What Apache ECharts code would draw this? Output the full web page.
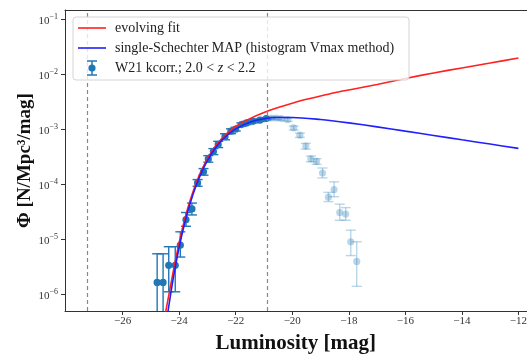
<!DOCTYPE html>
<html>
<head>
<meta charset="utf-8">
<script src="https://cdn.jsdelivr.net/npm/echarts@6/dist/echarts.min.js"></script>
<style>html,body{margin:0;padding:0;background:#fff}#c{width:530px;height:359px}</style>
</head>
<body>
<div id="c"></div>
<script>
// ---- data (Phi in N/Mpc^3/mag, luminosity in mag) ----
const xTicks = [-26, -24, -22, -20, -18, -16, -14, -12];
const yTicks = [-6, -5, -4, -3, -2, -1]; // powers of ten
const vLines = [-27.25, -20.9];

// W21 kcorr. points used in fit
const fitMag = [-24.78, -24.57, -24.37, -24.14, -23.96, -23.76, -23.55, -23.35, -23.14, -22.97, -22.79, -22.62, -22.38, -22.17, -22.0, -21.80, -21.62, -21.39, -21.15, -20.92];
const fitPhi = [1.66e-6, 1.66e-6, 3.4e-6, 3.4e-6, 7.9e-6, 2.3e-5, 3.6e-5, 1.07e-4, 1.70e-4, 2.92e-4, 3.98e-4, 5.37e-4, 7.41e-4, 9.33e-4, 1.02e-3, 1.23e-3, 1.32e-3, 1.41e-3, 1.48e-3, 1.58e-3];
const fitLo = [0, 0, 1.12e-6, 1.12e-6, 4.8e-6, 1.74e-5, 2.8e-5, 9.3e-5, 1.48e-4, 2.55e-4, 3.5e-4, 4.7e-4, 6.5e-4, 8.4e-4, 0.94e-3, 1.14e-3, 1.23e-3, 1.32e-3, 1.40e-3, 1.50e-3];
const fitHi = [5.5e-6, 5.5e-6, 7.4e-6, 7.4e-6, 1.38e-5, 3.1e-5, 4.6e-5, 1.23e-4, 1.95e-4, 3.35e-4, 4.5e-4, 6.1e-4, 8.4e-4, 1.03e-3, 1.10e-3, 1.32e-3, 1.41e-3, 1.50e-3, 1.56e-3, 1.66e-3];

// W21 kcorr. points beyond the limit (faint)
const faintMag = [-20.74, -20.57, -20.39, -20.16, -19.95, -19.73, -19.52, -19.34, -19.14, -18.93, -18.72, -18.52, -18.32, -18.11, -17.93, -17.72];
const faintPhi = [1.62e-3, 1.62e-3, 1.58e-3, 1.51e-3, 1.07e-3, 7.9e-4, 5.0e-4, 2.92e-4, 2.63e-4, 1.62e-4, 5.9e-5, 8.1e-5, 3.1e-5, 2.9e-5, 9.1e-6, 4.0e-6];
const faintLo = [1.52e-3, 1.52e-3, 1.48e-3, 1.41e-3, 0.98e-3, 7.2e-4, 4.4e-4, 2.6e-4, 2.33e-4, 1.32e-4, 4.9e-5, 6.0e-5, 2.24e-5, 2.24e-5, 5.1e-6, 1.41e-6];
const faintHi = [1.72e-3, 1.72e-3, 1.68e-3, 1.61e-3, 1.16e-3, 8.6e-4, 5.6e-4, 3.3e-4, 2.95e-4, 2.0e-4, 7.2e-5, 1.12e-4, 4.4e-5, 3.8e-5, 1.48e-5, 9.1e-6];

// single-Schechter MAP curve
const schMag = [-24.4, -24.2, -24.0, -23.8, -23.6, -23.4, -23.2, -23.0, -22.75, -22.5, -22.25, -22.0, -21.5, -21.0, -20.5, -20.0, -19.0, -18.0, -17.0, -16.0, -15.0, -14.0, -13.0, -12.0];
const schPhi = [4.8e-7, 2.12e-6, 7.3e-6, 2.04e-5, 4.75e-5, 9.6e-5, 1.70e-4, 2.72e-4, 4.37e-4, 6.3e-4, 8.3e-4, 1.03e-3, 1.36e-3, 1.57e-3, 1.66e-3, 1.66e-3, 1.52e-3, 1.32e-3, 1.12e-3, 9.35e-4, 7.8e-4, 6.5e-4, 5.45e-4, 4.54e-4];

// evolving fit curve
const evoMag = [-24.5, -24.2, -24.0, -23.8, -23.6, -23.4, -23.2, -23.0, -22.75, -22.5, -22.25, -22.0, -21.5, -21.0, -20.5, -20.0, -19.5, -19.0, -18.5, -18.0, -17.0, -16.0, -15.0, -14.0, -13.0, -12.0];
const evoPhi = [4.2e-7, 2.8e-6, 8.9e-6, 2.4e-5, 5.4e-5, 1.07e-4, 1.86e-4, 2.95e-4, 4.7e-4, 6.8e-4, 9.1e-4, 1.15e-3, 1.58e-3, 2.04e-3, 2.51e-3, 3.02e-3, 3.55e-3, 4.07e-3, 4.68e-3, 5.25e-3, 6.6e-3, 8.5e-3, 1.07e-2, 1.32e-2, 1.62e-2, 2.0e-2];

const legendLabels = ['evolving fit', 'single-Schechter MAP (histogram Vmax method)', 'W21 kcorr.; 2.0 < {i|z} < 2.2'];

// ---- build ----
const L = v => (v > 0 ? Math.log10(v) : -12);
const SERIF = '"Liberation Serif", "DejaVu Serif", serif';
const curve = (m, p) => m.map((x, i) => [x, L(p[i])]);
const errData = (m, p, lo, hi) => m.map((x, i) => [x, L(p[i]), L(lo[i]), L(hi[i])]);

function errRender(color) {
  return function (params, api) {
    const cs = params.coordSys;
    const bottom = cs.y + cs.height;
    const p = api.coord([api.value(0), api.value(1)]);
    const ph = api.coord([api.value(0), api.value(3)]);
    const pl = api.coord([api.value(0), api.value(2)]);
    const loVisible = pl[1] <= bottom;
    const yl = Math.min(pl[1], bottom);
    const cap = 5;
    const st = { stroke: color, lineWidth: 1.4 };
    const ch = [
      { type: 'line', shape: { x1: p[0], y1: ph[1], x2: p[0], y2: yl }, style: st },
      { type: 'line', shape: { x1: p[0] - cap, y1: ph[1], x2: p[0] + cap, y2: ph[1] }, style: st }
    ];
    if (loVisible) ch.push({ type: 'line', shape: { x1: p[0] - cap, y1: pl[1], x2: p[0] + cap, y2: pl[1] }, style: st });
    ch.push({ type: 'circle', shape: { cx: p[0], cy: p[1], r: 3.6 }, style: { fill: color } });
    return { type: 'group', children: ch };
  };
}

const chart = echarts.init(document.getElementById('c'), null, { renderer: 'canvas' });
const axisColor = '#333';
const xMin = -28.04, xMax = -11.71;
chart.setOption({
  animation: false,
  grid: { left: 65, right: 0, top: 10, bottom: 43, show: false },
  xAxis: [{
    type: 'value', min: xMin, max: xMax,
    axisLine: { show: true, lineStyle: { color: axisColor, width: 1 } },
    axisTick: { show: true, inside: false, length: 4, customValues: xTicks, lineStyle: { color: axisColor } },
    axisLabel: { customValues: xTicks, margin: 5, fontFamily: SERIF, fontSize: 11, color: '#333', formatter: v => '\u2212' + Math.abs(v) },
    splitLine: { show: false },
    name: 'Luminosity [mag]', nameLocation: 'middle', nameGap: 22, nameMoveOverlap: false,
    nameTextStyle: { fontFamily: SERIF, fontSize: 21, fontWeight: 'bold', color: '#111' }
  }, {
    type: 'value', position: 'top', min: xMin, max: xMax,
    axisLine: { show: true, lineStyle: { color: axisColor, width: 1 } },
    axisTick: { show: false }, axisLabel: { show: false }, splitLine: { show: false }
  }],
  yAxis: {
    type: 'value', min: -6.3, max: -0.826,
    axisLine: { show: true, lineStyle: { color: axisColor, width: 1 } },
    axisTick: { show: true, inside: false, length: 4, customValues: yTicks, lineStyle: { color: axisColor } },
    axisLabel: {
      customValues: yTicks, margin: 7, color: '#333',
      formatter: v => '{b|10}{s|\u2212' + Math.abs(v) + '}',
      rich: {
        b: { fontFamily: SERIF, fontSize: 11, color: '#333', lineHeight: 14, verticalAlign: 'bottom' },
        s: { fontFamily: SERIF, fontSize: 8, color: '#333', lineHeight: 14, verticalAlign: 'top' }
      }
    },
    splitLine: { show: false },
    name: 'Φ [N/Mpc³/mag]', nameLocation: 'middle', nameGap: 30, nameRotate: 90, nameMoveOverlap: false,
    nameTextStyle: { fontFamily: SERIF, fontSize: 19, fontWeight: 'bold', color: '#111' }
  },
  series: [
    {
      type: 'custom', name: 'faint', renderItem: errRender('rgba(31,119,180,0.3)'),
      data: errData(faintMag, faintPhi, faintLo, faintHi), z: 2, clip: true,
      encode: { x: 0, y: 1 }
    },
    {
      type: 'custom', name: 'fit', renderItem: errRender('#1f77b4'),
      data: errData(fitMag, fitPhi, fitLo, fitHi), z: 3, clip: true,
      encode: { x: 0, y: 1 }
    },
    {
      type: 'line', name: legendLabels[0], data: curve(evoMag, evoPhi), smooth: 0.3, symbol: 'none',
      lineStyle: { color: '#ff2020', width: 1.6 }, z: 4, clip: true,
      markLine: {
        silent: true, symbol: 'none', label: { show: false },
        lineStyle: { color: '#888', type: [4, 3], width: 1.2 },
        data: vLines.map(v => ({ xAxis: v }))
      }
    },
    {
      type: 'line', name: legendLabels[1], data: curve(schMag, schPhi), smooth: 0.3, symbol: 'none',
      lineStyle: { color: '#2020ff', width: 1.6 }, z: 5, clip: true
    }
  ],
  graphic: [
    { type: 'rect', z: 100, shape: { x: 73, y: 17, width: 336, height: 63, r: 3 }, style: { fill: 'rgba(255,255,255,0.8)', stroke: '#d4d4d4', lineWidth: 1 } },
    { type: 'line', z: 101, shape: { x1: 78, y1: 28, x2: 106, y2: 28 }, style: { stroke: '#ff2020', lineWidth: 1.6 } },
    { type: 'line', z: 101, shape: { x1: 78, y1: 48, x2: 106, y2: 48 }, style: { stroke: '#2020ff', lineWidth: 1.6 } },
    { type: 'line', z: 101, shape: { x1: 92, y1: 61, x2: 92, y2: 75 }, style: { stroke: '#1f77b4', lineWidth: 1.5 } },
    { type: 'line', z: 101, shape: { x1: 87, y1: 61, x2: 97, y2: 61 }, style: { stroke: '#1f77b4', lineWidth: 1.5 } },
    { type: 'line', z: 101, shape: { x1: 87, y1: 75, x2: 97, y2: 75 }, style: { stroke: '#1f77b4', lineWidth: 1.5 } },
    { type: 'circle', z: 101, shape: { cx: 92, cy: 68, r: 3.6 }, style: { fill: '#1f77b4' } },
    { type: 'text', z: 101, x: 115, y: 28, style: { text: legendLabels[0], font: '14px ' + SERIF, fill: '#222', verticalAlign: 'middle' } },
    { type: 'text', z: 101, x: 115, y: 48, style: { text: legendLabels[1], font: '14px ' + SERIF, fill: '#222', verticalAlign: 'middle' } },
    { type: 'text', z: 101, x: 115, y: 68, style: { text: legendLabels[2], font: '14px ' + SERIF, fill: '#222', verticalAlign: 'middle', rich: { i: { fontStyle: 'italic', fontFamily: SERIF, fontSize: 14, fill: '#222' } } } }
  ]
});
</script>
</body>
</html>
